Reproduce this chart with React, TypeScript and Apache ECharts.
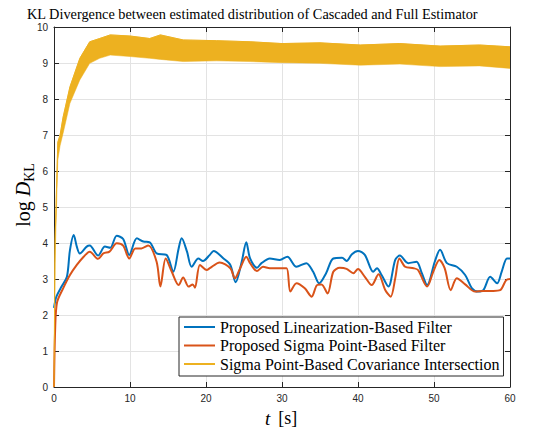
import React, { useEffect, useRef } from 'react';
import * as echarts from 'echarts';

const titleText = 'KL Divergence between estimated distribution of Cascaded and Full Estimator';
const seriesNames = [
  'Proposed Linearization-Based Filter',
  'Proposed Sigma Point-Based Filter',
  'Sigma Point-Based Covariance Intersection',
];
const xTicks = [0, 60, 10];
const yTicks = [0, 10, 1];

const blueT = [0, 0.3, 1.0, 1.7, 2.1, 2.6, 3.0, 3.4, 4.3, 4.7, 5.8, 6.7, 7.4, 8.25, 9.1, 9.9, 10.9, 11.75, 12.6, 13.5, 14.8, 15.7, 16.4, 16.8, 17.5, 18.1, 19.0, 19.6, 20.5, 21.0, 22.3, 23.2, 23.9, 24.7, 25.3, 25.8, 26.7, 27.3, 28.4, 29.7, 30.7, 31.9, 33.2, 34.1, 34.9, 35.8, 36.75, 37.9, 38.5, 39.2, 40.0, 40.9, 42.0, 42.5, 43.1, 44.0, 44.9, 45.5, 46.6, 47.7, 48.4, 49.1, 50.1, 50.8, 51.7, 53.0, 54.1, 55.0, 55.8, 56.5, 57.4, 58.3, 58.9, 59.6, 60];
const blueV = [2.2, 2.5, 2.79, 3.06, 3.8, 4.22, 3.9, 3.71, 3.9, 3.93, 3.65, 3.9, 3.87, 4.2, 4.11, 3.67, 4.13, 4.04, 4.02, 3.71, 3.67, 3.2, 3.85, 4.13, 3.76, 3.34, 3.57, 3.5, 3.67, 3.78, 3.57, 3.39, 2.91, 3.48, 4.02, 3.57, 3.31, 3.44, 3.57, 3.53, 3.62, 3.34, 3.44, 3.2, 2.88, 3.16, 3.57, 3.59, 3.5, 3.69, 3.78, 3.67, 3.2, 3.3, 3.11, 2.79, 3.53, 3.65, 3.44, 3.48, 3.16, 2.83, 3.48, 3.81, 3.44, 3.34, 3.11, 2.74, 2.65, 2.69, 3.06, 2.88, 3.2, 3.57, 3.57];

const orangeT = [0, 0.15, 0.4, 1.2, 2.1, 3.0, 3.9, 4.7, 5.8, 6.5, 7.3, 8.25, 9.1, 9.9, 10.7, 11.5, 12.4, 13.5, 14.0, 14.7, 15.5, 16.4, 17.0, 17.7, 18.25, 18.55, 19.2, 20.1, 20.5, 21.8, 23.2, 23.8, 24.5, 25.3, 25.8, 26.7, 27.5, 28.4, 29.7, 30.6, 31.1, 31.9, 33.0, 33.9, 34.6, 35.2, 36.0, 36.75, 37.6, 38.5, 39.4, 40.0, 40.9, 41.8, 42.7, 43.6, 44.3, 44.9, 45.45, 46.2, 47.3, 47.9, 49.1, 49.9, 50.7, 51.4, 52.2, 53.0, 54.1, 55.4, 56.5, 57.8, 58.7, 59.5, 60];
const orangeV = [0, 1.6, 2.35, 2.74, 3.11, 3.39, 3.62, 3.76, 3.56, 3.71, 3.76, 3.99, 3.93, 3.57, 3.85, 3.85, 3.93, 3.48, 2.79, 3.57, 3.2, 2.83, 3.04, 2.79, 2.85, 2.76, 3.39, 3.25, 3.3, 3.46, 3.3, 3.02, 3.3, 3.62, 3.44, 3.22, 3.34, 3.3, 3.3, 3.3, 2.65, 2.88, 2.74, 2.51, 2.83, 2.85, 2.6, 3.2, 3.31, 3.28, 3.16, 3.28, 3.06, 2.83, 3.13, 2.69, 2.51, 3.02, 3.57, 3.34, 3.3, 3.25, 2.79, 3.2, 3.53, 3.3, 2.69, 3.02, 2.85, 2.65, 2.67, 2.67, 2.69, 2.97, 3.0];

const yellowT = [0, 0.13, 0.5, 0.8, 1.2, 2.1, 3.4, 4.7, 6.0, 7.4, 10.0, 12.6, 14.0, 17.0, 21.4, 25.8, 30.0, 35.0, 40.3, 45.5, 50.8, 56.0, 60];
const yellowLow = [0, 3.4, 6.3, 6.7, 7.05, 7.88, 8.53, 8.99, 9.13, 9.22, 9.18, 9.13, 9.1, 9.04, 9.06, 9.04, 9.01, 8.99, 8.94, 8.97, 8.9, 8.92, 8.85];
const yellowHigh = [0, 4.0, 6.8, 7.0, 7.5, 8.34, 9.13, 9.59, 9.68, 9.78, 9.75, 9.68, 9.78, 9.64, 9.62, 9.59, 9.54, 9.56, 9.5, 9.54, 9.47, 9.5, 9.45];

const BLUE = '#0072BD';
const ORANGE = '#D95319';
const YELLOW = '#EDB120';
const AXIS = '#262626';
const GRID = '#e3e3e3';
const SERIF = 'Liberation Serif, serif';
const SANS = 'Liberation Sans, Arial, sans-serif';

function xAxisCfg(pos: 'bottom' | 'top', labels: boolean) {
  return {
    type: 'value',
    position: pos,
    min: xTicks[0],
    max: xTicks[1],
    interval: xTicks[2],
    axisLine: { show: true, onZero: false, lineStyle: { color: AXIS, width: 1 } },
    axisTick: { show: true, inside: true, length: 5, lineStyle: { color: AXIS, width: 1 } },
    axisLabel: { show: labels, color: AXIS, fontSize: 10, fontFamily: SANS, margin: 6 },
    splitLine: { show: labels, lineStyle: { color: GRID, width: 1 } },
  };
}
function yAxisCfg(pos: 'left' | 'right', labels: boolean) {
  return {
    type: 'value',
    position: pos,
    min: yTicks[0],
    max: yTicks[1],
    interval: yTicks[2],
    axisLine: { show: true, onZero: false, lineStyle: { color: AXIS, width: 1 } },
    axisTick: { show: true, inside: true, length: 5, lineStyle: { color: AXIS, width: 1 } },
    axisLabel: { show: labels, color: AXIS, fontSize: 10, fontFamily: SANS, margin: 6 },
    splitLine: { show: labels, lineStyle: { color: GRID, width: 1 } },
  };
}

export default function App() {
  const ref = useRef<HTMLDivElement>(null);
  useEffect(() => {
    const chart = echarts.init(ref.current!, null, { renderer: 'svg' });
    const option: any = {
      animation: false,
      backgroundColor: '#ffffff',
      title: {
        text: titleText,
        left: 27,
        top: 5,
        padding: 0,
        textStyle: { fontFamily: SERIF, fontSize: 14.3, fontWeight: 'normal', color: '#000', lineHeight: 18 },
      },
      grid: { left: 54, right: 40, top: 27, bottom: 42 },
      xAxis: [xAxisCfg('bottom', true), xAxisCfg('top', false)],
      yAxis: [yAxisCfg('left', true), yAxisCfg('right', false)],
      legend: {
        data: seriesNames,
        orient: 'vertical',
        left: 179,
        top: 317,
        backgroundColor: '#ffffff',
        borderColor: AXIS,
        borderWidth: 1,
        borderRadius: 0,
        padding: [1, 4, 3, 4],
        itemGap: 0.5,
        itemWidth: 31,
        itemHeight: 10,
        selectedMode: false,
        itemStyle: { opacity: 0 },
        textStyle: { fontFamily: SERIF, fontSize: 16, color: '#000', lineHeight: 18 },
      },
      graphic: [
        {
          type: 'text',
          x: 23,
          y: 195,
          rotation: Math.PI / 2,
          style: {
            text: '{a|log }{b|D}{c|KL}',
            fill: '#000',
            align: 'center',
            verticalAlign: 'middle',
            textAlign: 'center',
            textVerticalAlign: 'middle',
            rich: {
              a: { fontFamily: SERIF, fontSize: 20, lineHeight: 26, fill: '#000', color: '#000' },
              b: { fontFamily: SERIF, fontSize: 20, fontStyle: 'italic', lineHeight: 26, fill: '#000', color: '#000' },
              c: { fontFamily: SERIF, fontSize: 14, lineHeight: 14, verticalAlign: 'bottom', fill: '#000', color: '#000' },
            },
          },
        },
        {
          type: 'text',
          x: 281,
          y: 418,
          style: {
            text: '{a|t}{b|[s]}',
            fill: '#000',
            align: 'center',
            verticalAlign: 'middle',
            textAlign: 'center',
            textVerticalAlign: 'middle',
            rich: {
              a: { fontFamily: SERIF, fontSize: 19, fontStyle: 'italic', padding: [0, 8, 0, 0], fill: '#000', color: '#000' },
              b: { fontFamily: SERIF, fontSize: 18, fill: '#000', color: '#000' },
            },
          },
        },
      ],
      series: [
        {
          name: seriesNames[0],
          type: 'line',
          data: blueT.map((t, i) => [t, blueV[i]]),
          symbol: 'none',
          showSymbol: false,
          smooth: 0.3,
          lineStyle: { color: BLUE, width: 2 },
          itemStyle: { color: BLUE },
        },
        {
          name: seriesNames[1],
          type: 'line',
          data: orangeT.map((t, i) => [t, orangeV[i]]),
          symbol: 'none',
          showSymbol: false,
          smooth: 0.3,
          lineStyle: { color: ORANGE, width: 2 },
          itemStyle: { color: ORANGE },
        },
        {
          name: 'band',
          type: 'custom',
          data: yellowT.map((t, i) => [t, yellowLow[i], yellowHigh[i]]),
          encode: { x: 0, y: [1, 2] },
          silent: true,
          clip: true,
          renderItem: (params: any, api: any) => {
            if (params.dataIndex !== 0) return null;
            const pts: number[][] = [];
            for (let i = 0; i < yellowT.length; i++) pts.push(api.coord([yellowT[i], yellowHigh[i]]));
            for (let i = yellowT.length - 1; i >= 0; i--) pts.push(api.coord([yellowT[i], yellowLow[i]]));
            return { type: 'polygon', shape: { points: pts }, style: { fill: YELLOW, stroke: YELLOW, lineWidth: 0.5 } };
          },
        },
        {
          name: seriesNames[2],
          type: 'line',
          data: yellowT.map((t, i) => [t, yellowHigh[i]]),
          symbol: 'none',
          showSymbol: false,
          silent: true,
          lineStyle: { color: YELLOW, width: 1 },
          itemStyle: { color: YELLOW },
        },
      ],
    };
    chart.setOption(option);
    return () => chart.dispose();
  }, []);
  return <div ref={ref} style={{ position: 'fixed', left: 0, top: 0, width: 550, height: 429 }} />;
}
